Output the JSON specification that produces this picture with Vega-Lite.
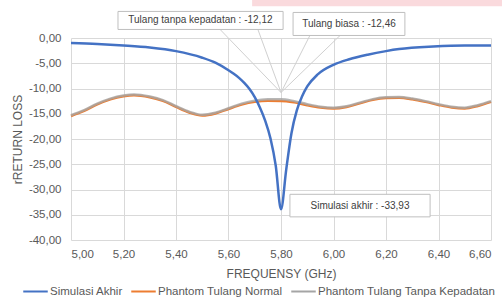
{
  "$schema": "https://vega.github.io/schema/vega-lite/v6.json",
  "width": 420,
  "height": 202,
  "autosize": {"type": "none"},
  "padding": {"left": 71, "top": 38, "right": 11, "bottom": 61},
  "background": "white",
  "datasets": {
    "series": [
      {"f": 5.00, "v": -1.0, "s": "Simulasi Akhir"},
      {"f": 5.10, "v": -1.2, "s": "Simulasi Akhir"},
      {"f": 5.20, "v": -1.5, "s": "Simulasi Akhir"},
      {"f": 5.30, "v": -1.9, "s": "Simulasi Akhir"},
      {"f": 5.40, "v": -2.6, "s": "Simulasi Akhir"},
      {"f": 5.50, "v": -3.9, "s": "Simulasi Akhir"},
      {"f": 5.55, "v": -4.9, "s": "Simulasi Akhir"},
      {"f": 5.60, "v": -6.4, "s": "Simulasi Akhir"},
      {"f": 5.62, "v": -7.1, "s": "Simulasi Akhir"},
      {"f": 5.64, "v": -7.9, "s": "Simulasi Akhir"},
      {"f": 5.66, "v": -8.9, "s": "Simulasi Akhir"},
      {"f": 5.68, "v": -10.1, "s": "Simulasi Akhir"},
      {"f": 5.70, "v": -11.7, "s": "Simulasi Akhir"},
      {"f": 5.72, "v": -13.8, "s": "Simulasi Akhir"},
      {"f": 5.74, "v": -16.4, "s": "Simulasi Akhir"},
      {"f": 5.76, "v": -19.9, "s": "Simulasi Akhir"},
      {"f": 5.78, "v": -25.3, "s": "Simulasi Akhir"},
      {"f": 5.80, "v": -33.93, "s": "Simulasi Akhir"},
      {"f": 5.82, "v": -26.0, "s": "Simulasi Akhir"},
      {"f": 5.84, "v": -18.8, "s": "Simulasi Akhir"},
      {"f": 5.86, "v": -14.4, "s": "Simulasi Akhir"},
      {"f": 5.88, "v": -11.6, "s": "Simulasi Akhir"},
      {"f": 5.90, "v": -9.6, "s": "Simulasi Akhir"},
      {"f": 5.94, "v": -7.2, "s": "Simulasi Akhir"},
      {"f": 6.00, "v": -5.3, "s": "Simulasi Akhir"},
      {"f": 6.06, "v": -4.2, "s": "Simulasi Akhir"},
      {"f": 6.13, "v": -3.3, "s": "Simulasi Akhir"},
      {"f": 6.20, "v": -2.6, "s": "Simulasi Akhir"},
      {"f": 6.25, "v": -2.2, "s": "Simulasi Akhir"},
      {"f": 6.38, "v": -1.7, "s": "Simulasi Akhir"},
      {"f": 6.50, "v": -1.5, "s": "Simulasi Akhir"},
      {"f": 6.60, "v": -1.5, "s": "Simulasi Akhir"},

      {"f": 5.00, "v": -15.45, "s": "Phantom Tulang Normal"},
      {"f": 5.05, "v": -14.45, "s": "Phantom Tulang Normal"},
      {"f": 5.10, "v": -13.15, "s": "Phantom Tulang Normal"},
      {"f": 5.15, "v": -12.15, "s": "Phantom Tulang Normal"},
      {"f": 5.20, "v": -11.55, "s": "Phantom Tulang Normal"},
      {"f": 5.24, "v": -11.35, "s": "Phantom Tulang Normal"},
      {"f": 5.30, "v": -11.75, "s": "Phantom Tulang Normal"},
      {"f": 5.35, "v": -12.45, "s": "Phantom Tulang Normal"},
      {"f": 5.40, "v": -13.65, "s": "Phantom Tulang Normal"},
      {"f": 5.45, "v": -14.75, "s": "Phantom Tulang Normal"},
      {"f": 5.50, "v": -15.35, "s": "Phantom Tulang Normal"},
      {"f": 5.55, "v": -14.95, "s": "Phantom Tulang Normal"},
      {"f": 5.60, "v": -14.05, "s": "Phantom Tulang Normal"},
      {"f": 5.65, "v": -13.2, "s": "Phantom Tulang Normal"},
      {"f": 5.70, "v": -12.65, "s": "Phantom Tulang Normal"},
      {"f": 5.75, "v": -12.45, "s": "Phantom Tulang Normal"},
      {"f": 5.80, "v": -12.46, "s": "Phantom Tulang Normal"},
      {"f": 5.85, "v": -12.75, "s": "Phantom Tulang Normal"},
      {"f": 5.90, "v": -13.3, "s": "Phantom Tulang Normal"},
      {"f": 5.95, "v": -13.75, "s": "Phantom Tulang Normal"},
      {"f": 6.00, "v": -13.95, "s": "Phantom Tulang Normal"},
      {"f": 6.05, "v": -13.65, "s": "Phantom Tulang Normal"},
      {"f": 6.10, "v": -12.95, "s": "Phantom Tulang Normal"},
      {"f": 6.15, "v": -12.25, "s": "Phantom Tulang Normal"},
      {"f": 6.20, "v": -11.9, "s": "Phantom Tulang Normal"},
      {"f": 6.25, "v": -11.85, "s": "Phantom Tulang Normal"},
      {"f": 6.30, "v": -12.15, "s": "Phantom Tulang Normal"},
      {"f": 6.35, "v": -12.65, "s": "Phantom Tulang Normal"},
      {"f": 6.40, "v": -13.25, "s": "Phantom Tulang Normal"},
      {"f": 6.45, "v": -13.75, "s": "Phantom Tulang Normal"},
      {"f": 6.50, "v": -13.95, "s": "Phantom Tulang Normal"},
      {"f": 6.55, "v": -13.45, "s": "Phantom Tulang Normal"},
      {"f": 6.60, "v": -12.65, "s": "Phantom Tulang Normal"},

      {"f": 5.00, "v": -15.3, "s": "Phantom Tulang Tanpa Kepadatan"},
      {"f": 5.05, "v": -14.3, "s": "Phantom Tulang Tanpa Kepadatan"},
      {"f": 5.10, "v": -13.0, "s": "Phantom Tulang Tanpa Kepadatan"},
      {"f": 5.15, "v": -12.0, "s": "Phantom Tulang Tanpa Kepadatan"},
      {"f": 5.20, "v": -11.4, "s": "Phantom Tulang Tanpa Kepadatan"},
      {"f": 5.24, "v": -11.2, "s": "Phantom Tulang Tanpa Kepadatan"},
      {"f": 5.30, "v": -11.6, "s": "Phantom Tulang Tanpa Kepadatan"},
      {"f": 5.35, "v": -12.3, "s": "Phantom Tulang Tanpa Kepadatan"},
      {"f": 5.40, "v": -13.5, "s": "Phantom Tulang Tanpa Kepadatan"},
      {"f": 5.45, "v": -14.6, "s": "Phantom Tulang Tanpa Kepadatan"},
      {"f": 5.50, "v": -15.2, "s": "Phantom Tulang Tanpa Kepadatan"},
      {"f": 5.55, "v": -14.8, "s": "Phantom Tulang Tanpa Kepadatan"},
      {"f": 5.60, "v": -13.9, "s": "Phantom Tulang Tanpa Kepadatan"},
      {"f": 5.65, "v": -13.0, "s": "Phantom Tulang Tanpa Kepadatan"},
      {"f": 5.70, "v": -12.4, "s": "Phantom Tulang Tanpa Kepadatan"},
      {"f": 5.75, "v": -12.15, "s": "Phantom Tulang Tanpa Kepadatan"},
      {"f": 5.80, "v": -12.12, "s": "Phantom Tulang Tanpa Kepadatan"},
      {"f": 5.85, "v": -12.5, "s": "Phantom Tulang Tanpa Kepadatan"},
      {"f": 5.90, "v": -13.1, "s": "Phantom Tulang Tanpa Kepadatan"},
      {"f": 5.95, "v": -13.6, "s": "Phantom Tulang Tanpa Kepadatan"},
      {"f": 6.00, "v": -13.8, "s": "Phantom Tulang Tanpa Kepadatan"},
      {"f": 6.05, "v": -13.5, "s": "Phantom Tulang Tanpa Kepadatan"},
      {"f": 6.10, "v": -12.8, "s": "Phantom Tulang Tanpa Kepadatan"},
      {"f": 6.15, "v": -12.1, "s": "Phantom Tulang Tanpa Kepadatan"},
      {"f": 6.20, "v": -11.75, "s": "Phantom Tulang Tanpa Kepadatan"},
      {"f": 6.25, "v": -11.7, "s": "Phantom Tulang Tanpa Kepadatan"},
      {"f": 6.30, "v": -12.0, "s": "Phantom Tulang Tanpa Kepadatan"},
      {"f": 6.35, "v": -12.5, "s": "Phantom Tulang Tanpa Kepadatan"},
      {"f": 6.40, "v": -13.1, "s": "Phantom Tulang Tanpa Kepadatan"},
      {"f": 6.45, "v": -13.6, "s": "Phantom Tulang Tanpa Kepadatan"},
      {"f": 6.50, "v": -13.8, "s": "Phantom Tulang Tanpa Kepadatan"},
      {"f": 6.55, "v": -13.3, "s": "Phantom Tulang Tanpa Kepadatan"},
      {"f": 6.60, "v": -12.5, "s": "Phantom Tulang Tanpa Kepadatan"}
    ],
    "boxes": [
      {"x1": 5.179, "x2": 5.808, "y1": 5.26, "y2": 1.69, "tx": 5.493, "ty": 3.47, "label": "Tulang tanpa kepadatan : -12,12"},
      {"x1": 5.846, "x2": 6.272, "y1": 5.06, "y2": 0.50, "tx": 6.059, "ty": 2.78, "label": "Tulang biasa  : -12,46"},
      {"x1": 5.834, "x2": 6.368, "y1": -30.95, "y2": -35.42, "tx": 6.101, "ty": -33.2, "label": "Simulasi akhir : -33,93"}
    ],
    "leaders": [
      {"x1": 5.568, "y1": 1.69, "x2": 5.80, "y2": -10.8},
      {"x1": 5.712, "y1": 1.69, "x2": 5.80, "y2": -10.8},
      {"x1": 5.910, "y1": 0.50, "x2": 5.80, "y2": -10.8},
      {"x1": 6.025, "y1": 0.50, "x2": 5.80, "y2": -10.8}
    ],
    "pink": [
      {"x1": 5.69, "x2": 6.65, "y1": 7.7, "y2": 6.3}
    ]
  },
  "layer": [
    {
      "data": {"name": "pink"},
      "mark": {"type": "rect", "color": "#FADADD", "clip": false},
      "encoding": {
        "x": {"field": "x1", "type": "quantitative",
          "scale": {"domain": [5, 6.6], "nice": false, "zero": false},
          "axis": {"values": [5, 5.2, 5.4, 5.6, 5.8, 6.0, 6.2, 6.4, 6.6], "tickCount": 9, "format": ".2f", "title": "FREQUENSY (GHz)", "titlePadding": 9, "labelPadding": 8, "labelOverlap": false}},
        "x2": {"field": "x2"},
        "y": {"field": "y1", "type": "quantitative",
          "scale": {"domain": [-40, 0], "nice": false, "zero": false},
          "axis": {"values": [0, -5, -10, -15, -20, -25, -30, -35, -40], "tickCount": 9, "format": ".2f", "title": "rRETURN LOSS", "titlePadding": 4, "labelPadding": 10, "labelOverlap": false}},
        "y2": {"field": "y2"}
      }
    },
    {
      "data": {"name": "series"},
      "transform": [{"filter": "datum.s === 'Phantom Tulang Normal'"}],
      "mark": {"type": "line", "strokeWidth": 2.5, "interpolate": "monotone"},
      "encoding": {
        "x": {"field": "f", "type": "quantitative",
          "axis": {"values": [5, 5.2, 5.4, 5.6, 5.8, 6.0, 6.2, 6.4, 6.6], "tickCount": 9, "format": ".2f", "title": "FREQUENSY (GHz)", "titlePadding": 9, "labelPadding": 8, "labelOverlap": false}},
        "y": {"field": "v", "type": "quantitative",
          "axis": {"values": [0, -5, -10, -15, -20, -25, -30, -35, -40], "tickCount": 9, "format": ".2f", "title": "rRETURN LOSS", "titlePadding": 4, "labelPadding": 10, "labelOverlap": false}},
        "color": {"field": "s", "type": "nominal",
          "scale": {"domain": ["Simulasi Akhir", "Phantom Tulang Normal", "Phantom Tulang Tanpa Kepadatan"], "range": ["#4472C4", "#ED7D31", "#A5A5A5"]},
          "legend": {"title": null, "orient": "none", "direction": "horizontal", "legendX": -49, "legendY": 240, "symbolType": "stroke", "symbolSize": 600, "symbolStrokeWidth": 2, "symbolOpacity": 1, "labelFontSize": 11.5, "labelLimit": 300, "labelColor": "#595959", "labelFont": "Liberation Sans", "columnPadding": 4, "symbolOffset": 0, "labelOffset": 1}}
      }
    },
    {
      "data": {"name": "series"},
      "transform": [{"filter": "datum.s === 'Phantom Tulang Tanpa Kepadatan'"}],
      "mark": {"type": "line", "strokeWidth": 2.5, "interpolate": "monotone", "strokeOpacity": 0.8},
      "encoding": {
        "x": {"field": "f", "type": "quantitative"},
        "y": {"field": "v", "type": "quantitative"},
        "color": {"field": "s", "type": "nominal"}
      }
    },
    {
      "data": {"name": "series"},
      "transform": [{"filter": "datum.s === 'Simulasi Akhir'"}],
      "mark": {"type": "line", "strokeWidth": 2.5, "interpolate": "monotone"},
      "encoding": {
        "x": {"field": "f", "type": "quantitative"},
        "y": {"field": "v", "type": "quantitative"},
        "color": {"field": "s", "type": "nominal"}
      }
    },
    {
      "data": {"name": "leaders"},
      "mark": {"type": "rule", "color": "#D0D0D0", "strokeWidth": 1, "clip": false},
      "encoding": {
        "x": {"field": "x1", "type": "quantitative"},
        "y": {"field": "y1", "type": "quantitative"},
        "x2": {"field": "x2"},
        "y2": {"field": "y2"}
      }
    },
    {
      "data": {"name": "boxes"},
      "mark": {"type": "rect", "fill": "white", "stroke": "#BFBFBF", "strokeWidth": 1, "clip": false},
      "encoding": {
        "x": {"field": "x1", "type": "quantitative"},
        "x2": {"field": "x2"},
        "y": {"field": "y1", "type": "quantitative"},
        "y2": {"field": "y2"}
      }
    },
    {
      "data": {"name": "boxes"},
      "mark": {"type": "text", "font": "Liberation Sans", "fontSize": 10, "color": "#404040", "align": "center", "baseline": "middle", "clip": false},
      "encoding": {
        "x": {"field": "tx", "type": "quantitative"},
        "y": {"field": "ty", "type": "quantitative"},
        "text": {"field": "label"}
      }
    }
  ],
  "config": {
    "locale": {"number": {"decimal": ",", "thousands": ".", "grouping": [3], "currency": ["", " €"], "minus": "-"}},
    "view": {"stroke": null},
    "axis": {
      "grid": true,
      "gridColor": "#D9D9D9",
      "gridWidth": 1,
      "domain": false,
      "ticks": false,
      "labelFont": "Liberation Sans",
      "labelFontSize": 11.5,
      "labelColor": "#595959",
      "titleFont": "Liberation Sans",
      "titleFontSize": 12,
      "titleFontWeight": "normal",
      "titleColor": "#595959"
    }
  }
}
